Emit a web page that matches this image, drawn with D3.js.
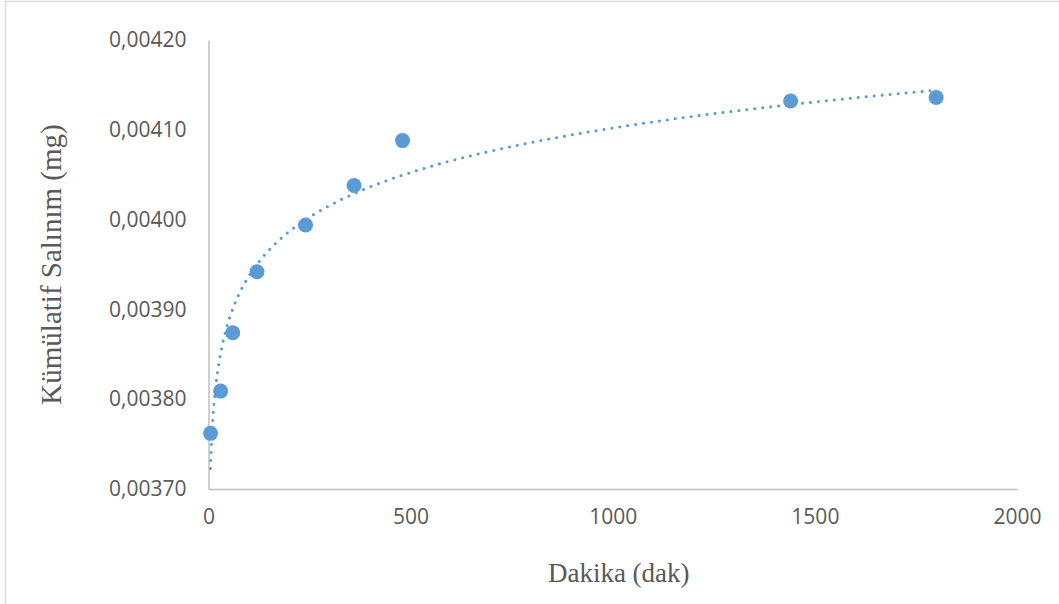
<!DOCTYPE html>
<html>
<head>
<meta charset="utf-8">
<script src="https://cdn.jsdelivr.net/npm/d3@7"></script>
<style>
  html, body { margin: 0; padding: 0; background: #fff; }
  svg { display: block; }
</style>
</head>
<body>
<svg id="chart" width="1059" height="604"></svg>
<script>
// Cumulative release measurements (minutes, mg)
const minutes = [5, 30, 60, 120, 240, 360, 480, 1440, 1800];
const release = [0.003762, 0.003809, 0.003874, 0.003942, 0.003994, 0.004038, 0.004088, 0.004132, 0.004136];
const xTicks = [0, 500, 1000, 1500, 2000];
const yTicks = [0.00370, 0.00380, 0.00390, 0.00400, 0.00410, 0.00420];

const W = 1059, H = 604;
const margin = { left: 208.5, right: 1017, top: 40, bottom: 489 };
const blue = "#5B9BD5";
const textGray = "#595959";
const axisGray = "#BFBFBF";

const svg = d3.select("#chart");

// outer chart frame
svg.append("rect")
  .attr("x", 5.5).attr("y", 1.5)
  .attr("width", W + 10).attr("height", H + 10)
  .attr("fill", "#fff")
  .attr("stroke", "#D9D9D9")
  .attr("stroke-width", 1.5);

const x = d3.scaleLinear().domain([0, 2000]).range([margin.left, margin.right]);
const y = d3.scaleLinear().domain([0.00370, 0.00420]).range([margin.bottom, margin.top]);

const fmt = v => v.toFixed(5).replace(".", ",");

// y axis: line on the left, labels right-aligned
const yAxis = svg.append("g")
  .attr("transform", `translate(${margin.left},0)`)
  .call(d3.axisLeft(y).tickValues(yTicks).tickFormat(fmt).tickSize(0).tickPadding(22));
yAxis.select(".domain").attr("stroke", axisGray).attr("stroke-width", 1.5);
yAxis.selectAll("text")
  .attr("fill", textGray)
  .style("font-family", "'Open Sans', 'Noto Sans', sans-serif")
  .style("font-size", "21px");

// x axis along the bottom
const xAxis = svg.append("g")
  .attr("transform", `translate(0,${margin.bottom})`)
  .call(d3.axisBottom(x).tickValues(xTicks).tickFormat(d3.format("d")).tickSize(0).tickPadding(20));
xAxis.select(".domain").attr("stroke", axisGray).attr("stroke-width", 1.5);
xAxis.selectAll("text")
  .attr("fill", textGray)
  .style("font-family", "'Open Sans', 'Noto Sans', sans-serif")
  .style("font-size", "21px");

// logarithmic trendline  y = a*ln(x) + b  (least squares)
const lx = minutes.map(Math.log);
const n = minutes.length;
const mx = d3.mean(lx), my = d3.mean(release);
const a = d3.sum(lx.map((v, i) => (v - mx) * (release[i] - my))) / d3.sum(lx.map(v => (v - mx) ** 2));
const b = my - a * mx;
const trendX = d3.range(0, 201).map(i => Math.exp(Math.log(minutes[0]) + i / 200 * (Math.log(minutes[n - 1]) - Math.log(minutes[0]))));

svg.append("path")
  .datum(trendX)
  .attr("fill", "none")
  .attr("stroke", blue)
  .attr("stroke-width", 3)
  .attr("stroke-linecap", "round")
  .attr("stroke-dasharray", "0.01 8")
  .attr("d", d3.line().x(d => x(d)).y(d => y(a * Math.log(d) + b)));

// data markers
svg.append("g")
  .selectAll("circle")
  .data(minutes.map((m, i) => [m, release[i]]))
  .join("circle")
  .attr("cx", d => x(d[0]))
  .attr("cy", d => y(d[1]))
  .attr("r", 7.5)
  .attr("fill", blue);

// axis titles
svg.append("text")
  .attr("x", (margin.left + margin.right) / 2 + 6)
  .attr("y", 582)
  .attr("text-anchor", "middle")
  .attr("fill", textGray)
  .style("font-family", "'Liberation Serif', 'DejaVu Serif', serif")
  .style("font-size", "27px")
  .text("Dakika (dak)");

svg.append("text")
  .attr("transform", `translate(61,${(margin.top + margin.bottom) / 2}) rotate(-90)`)
  .attr("text-anchor", "middle")
  .attr("fill", textGray)
  .style("font-family", "'Liberation Serif', 'DejaVu Serif', serif")
  .style("font-size", "29px")
  .text("Kümülatif Salınım (mg)");
</script>
</body>
</html>
